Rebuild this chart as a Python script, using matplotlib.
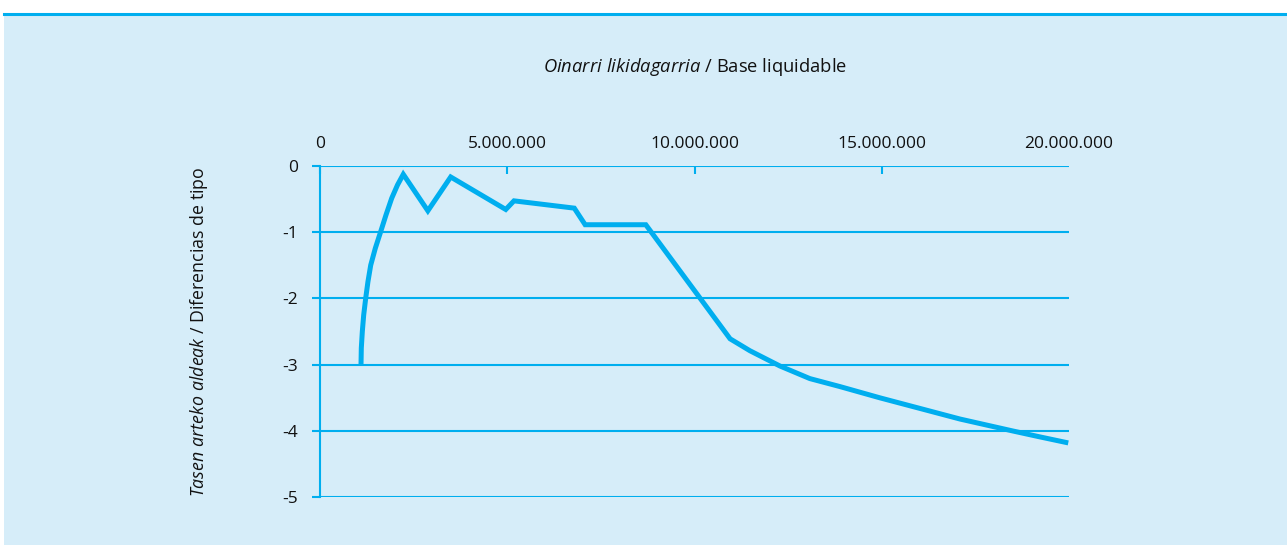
import matplotlib
matplotlib.use('Agg')
import matplotlib.pyplot as plt
from matplotlib.patches import Rectangle
from matplotlib.lines import Line2D
from matplotlib.ticker import FuncFormatter

# data (base in millions, rate difference)
base_m = [1.095, 1.103, 1.13, 1.167, 1.22, 1.28, 1.354, 1.477, 1.62, 1.762, 1.915, 2.07,
          2.224, 2.88, 3.49, 4.96, 5.18, 6.79, 7.08, 8.70, 10.95, 11.48, 12.28, 13.08,
          13.88, 14.95, 16.02, 17.09, 18.50, 19.23, 19.98]
diff = [-3.0, -2.75, -2.50, -2.25, -2.00, -1.75, -1.50, -1.245, -0.995, -0.743, -0.49, -0.29,
        -0.13, -0.68, -0.17, -0.66, -0.53, -0.64, -0.89, -0.89, -2.61, -2.79, -3.02, -3.21,
        -3.33, -3.50, -3.66, -3.82, -4.0, -4.09, -4.18]
xticks = [0, 5e6, 10e6, 15e6, 20e6]
yticks = [0, -1, -2, -3, -4, -5]

bg = '#d6edf9'
cyan = '#00aeef'

plt.rcParams['font.family'] = ['Open Sans', 'DejaVu Sans']
plt.rcParams['mathtext.fontset'] = 'custom'
plt.rcParams['mathtext.rm'] = 'Open Sans'
plt.rcParams['mathtext.it'] = 'Open Sans:italic'

W, H = 1287, 545
fig = plt.figure(figsize=(W / 100, H / 100), dpi=100)
fig.patch.set_facecolor('white')
fig.add_artist(Rectangle((4 / W, 0), 1 - 4 / W, 1 - 14 / H, transform=fig.transFigure,
                         facecolor=bg, edgecolor='none', zorder=0))
fig.add_artist(Line2D([4 / W, 1], [1 - 13.5 / H, 1 - 13.5 / H], transform=fig.transFigure,
                      color=cyan, lw=2.2, zorder=1))

ax = fig.add_axes([320 / W, 1 - 497.3 / H, (1069 - 320) / W, (497.3 - 165.7) / H])
ax.set_facecolor('none')

ax.plot([b * 1e6 for b in base_m], diff, color=cyan, lw=3.6, solid_joinstyle='miter',
        solid_capstyle='butt', zorder=3)

ax.set_xlim(0, 20e6)
ax.set_ylim(-5, 0)
ax.set_xticks(xticks)
ax.set_yticks(yticks)
ax.xaxis.set_major_formatter(FuncFormatter(lambda v, p: '{:,.0f}'.format(v).replace(',', '.')))
ax.yaxis.set_major_formatter(FuncFormatter(lambda v, p: '{:.0f}'.format(v)))
ax.xaxis.tick_top()
ax.tick_params(axis='x', direction='in', length=6, width=1.5, color=cyan, pad=10,
               labelsize=12.5, labelcolor='#111111')
ax.tick_params(axis='y', direction='out', length=6, width=1.5, color=cyan, pad=10,
               labelsize=12.5, labelcolor='#111111')
ax.xaxis.get_major_ticks()[-1].tick2line.set_visible(False)
ax.grid(axis='y', color=cyan, lw=1.5, zorder=1)
ax.set_axisbelow(True)
for s in ['top', 'right', 'bottom']:
    ax.spines[s].set_visible(False)
ax.spines['left'].set_color(cyan)
ax.spines['left'].set_linewidth(1.5)

fig.text(695 / W, 1 - 67 / H, r'$\mathit{Oinarri\ likidagarria}$ / Base liquidable',
         ha='center', va='center', fontsize=13.2, color='#111111')
fig.text(199 / W, 1 - 331.5 / H, r'$\mathit{Tasen\ arteko\ aldeak}$ / Diferencias de tipo',
         ha='center', va='center', rotation=90, fontsize=12.8, color='#111111')

fig.savefig('out.png', dpi=100)
